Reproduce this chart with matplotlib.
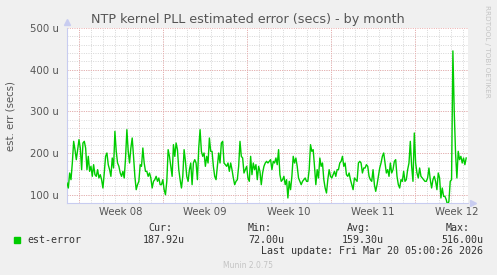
import numpy as np
import matplotlib.pyplot as plt

# est-error samples (microseconds), left to right
err_a = [128, 116, 152, 136, 176, 228, 208, 184, 208, 232, 212, 160, 224, 228, 212, 160,
         192, 156, 168, 144, 172, 148, 144, 160, 140, 148, 136, 116, 152, 192, 200, 172,
         160, 144, 188, 164, 252, 204, 176, 168, 152, 144, 156, 140, 188, 256, 204, 176,
         212, 236, 192, 144, 112, 124, 132, 172, 168, 212, 176, 156, 156, 144, 152, 140,
         116, 132, 136, 144, 132, 140, 124, 124, 136, 112, 100, 132, 208, 192, 168, 144,
         220, 192, 224, 208, 160, 136, 116, 144, 208, 180, 144, 132, 160, 176, 124, 176,
         184, 176, 136, 212, 256, 204, 192, 200, 168, 192, 176, 236, 204, 204, 168, 144,
         136, 168, 200, 176, 224, 228, 176, 172, 168, 176, 156, 176, 160, 140, 124, 132,
         136, 168, 228, 192, 188, 152, 160, 168, 140, 132]
err_b = [192, 148, 176, 160, 172, 136, 168, 156, 124, 152, 168, 176, 180, 176, 180, 184,
         160, 180, 176, 188, 172, 208, 148, 132, 136, 144, 124, 136, 92, 132, 112, 144,
         192, 176, 188, 168, 140, 132, 124, 132, 136, 140, 132, 132, 160, 220, 204, 208,
         168, 124, 160, 140, 188, 168, 176, 136, 116, 104, 136, 160, 144, 140, 148, 156,
         144, 160, 160, 176, 180, 192, 168, 176, 148, 144, 152, 136, 124, 112, 140, 136,
         132, 176, 180, 176, 152, 164, 164, 172, 168, 144, 136, 132, 160, 124, 108, 124,
         144, 164, 176, 192, 200, 176, 152, 160, 144, 176, 152, 160, 180, 184, 144, 124,
         116, 136, 132, 156, 132, 136, 160, 176, 228, 168, 132, 248, 176, 152, 140, 164,
         144, 140, 136, 132, 132, 140, 164, 136, 116, 136, 144, 132, 112, 152, 140, 92,
         116, 96, 96, 88, 75, 84, 132, 136, 445, 300, 200, 140, 204, 184, 192, 176,
         188, 172, 188]

week_starts = [1, 8, 15, 22, 29]          # days from left edge
week_labels = ["Week 08", "Week 09", "Week 10", "Week 11", "Week 12"]
y_major = [100, 200, 300, 400, 500]

W, H = 497, 275
def fx(px):
    return px / W
def fy(py):
    return 1 - py / H

fig = plt.figure(figsize=(W / 100, H / 100), dpi=100, facecolor='#f0f0f0')
ax = fig.add_axes([fx(67), fy(203), (468 - 67) / W, (203 - 28) / H])
ax.set_facecolor('white')

err = np.array(err_a + err_b, dtype=float)
x = np.linspace(0, 33.25, len(err))
ax.plot(x, err, color='#00cc00', lw=1.0, zorder=3)

ax.set_xlim(0, 33.4)
ax.set_ylim(80, 500)

# grid: grey dotted every day / 20u, red dotted every week / 100u
dot = (0, (1, 1.4))
for d in range(1, 34):
    ax.axvline(d, color='#d6d6d6', lw=0.7, ls=dot, zorder=1)
for v in range(100, 500, 20):
    ax.axhline(v, color='#d6d6d6', lw=0.7, ls=dot, zorder=1)
for d in week_starts:
    ax.axvline(d, color='#eaaaaa', lw=0.7, ls=dot, zorder=2)
for v in y_major:
    ax.axhline(v, color='#eaaaaa', lw=0.7, ls=dot, zorder=2)

ax.set_xticks([d + 3.5 for d in week_starts])
ax.set_xticklabels(week_labels)
ax.set_yticks(y_major)
ax.set_yticklabels([f"{v} u" for v in y_major])
ax.tick_params(axis='x', length=0, pad=3, labelsize=7.3, labelcolor='#555555')
ax.tick_params(axis='y', length=0, pad=6, labelsize=7.3, labelcolor='#555555')

for s in ['top', 'right']:
    ax.spines[s].set_visible(False)
for s in ['left', 'bottom']:
    ax.spines[s].set_color('#c8ccf0')
    ax.spines[s].set_linewidth(0.8)
ax.plot([0], [1.035], marker='^', ms=4, color='#c8ccf0', transform=ax.transAxes, clip_on=False)
ax.plot([1.013], [0], marker='>', ms=4, color='#c8ccf0', transform=ax.transAxes, clip_on=False)

fig.text(fx(248), fy(19), "NTP kernel PLL estimated error (secs) - by month",
         ha='center', va='center', fontsize=9.2, color='#555555')
fig.text(fx(11), fy(116), "est. err (secs)", rotation=90, ha='center', va='center',
         fontsize=7.3, color='#555555')
fig.text(fx(487), fy(5), "RRDTOOL / TOBI OETIKER", rotation=-90, ha='center', va='top',
         fontsize=5.2, color='#c4c4c4')

mono = 'DejaVu Sans Mono'
fs = 7.2
tc = '#333333'
fig.patches.append(plt.Rectangle((fx(14), fy(243)), 6 / W, 6 / H, transform=fig.transFigure,
                                 color='#00cc00', figure=fig))
fig.text(fx(27), fy(240), "est-error", family=mono, fontsize=fs, color=tc, va='center')
cols = [("Cur:", 172, "187.92u", 185), ("Min:", 272, "72.00u", 284),
        ("Avg:", 371, "159.30u", 384), ("Max:", 470, "516.00u", 483)]
for head, hx, val, vx in cols:
    fig.text(fx(hx), fy(228), head, family=mono, fontsize=fs, color=tc, ha='right', va='center')
    fig.text(fx(vx), fy(240), val, family=mono, fontsize=fs, color=tc, ha='right', va='center')
fig.text(fx(483), fy(251), "Last update: Fri Mar 20 05:00:26 2026", family=mono,
         fontsize=fs, color=tc, ha='right', va='center')
fig.text(fx(248), fy(265), "Munin 2.0.75", fontsize=5.5, color='#c4c4c4', ha='center', va='center')

fig.savefig('out.png', dpi=100, facecolor=fig.get_facecolor())
